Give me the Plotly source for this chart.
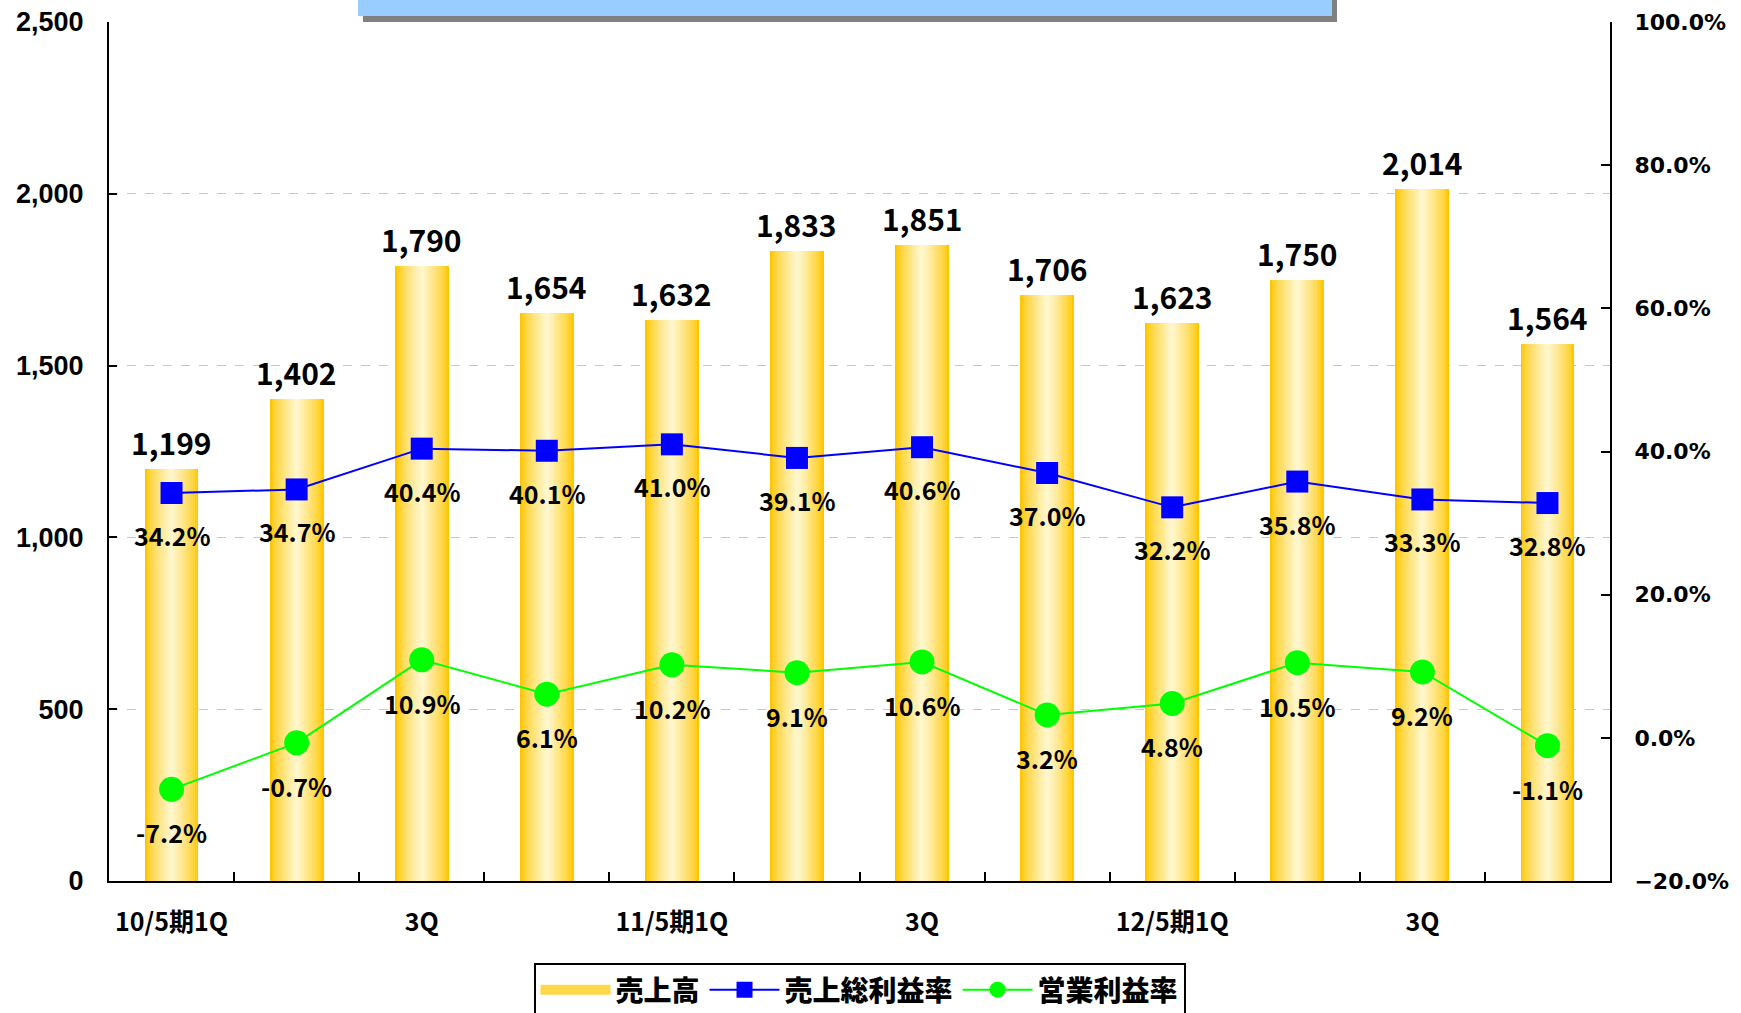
import plotly.graph_objects as go

categories = ["c1", "c2", "c3", "c4", "c5", "c6", "c7", "c8", "c9", "c10", "c11", "c12"]
tick_labels = ["10/5期1Q", "", "3Q", "", "11/5期1Q", "", "3Q", "", "12/5期1Q", "", "3Q", ""]
sales = [1199, 1402, 1790, 1654, 1632, 1833, 1851, 1706, 1623, 1750, 2014, 1564]
gross_margin = [34.2, 34.7, 40.4, 40.1, 41.0, 39.1, 40.6, 37.0, 32.2, 35.8, 33.3, 32.8]
op_margin = [-7.2, -0.7, 10.9, 6.1, 10.2, 9.1, 10.6, 3.2, 4.8, 10.5, 9.2, -1.1]

W, H = 1741, 1013
L, R, T, B = 109, 131, 22, 132
PW, PH = W - L - R, H - T - B

def px_x(px):
    return (px - L) / PW

def px_y(py):
    return (H - B - py) / PH

fig = go.Figure()

# gradient bars via stacked overlay of narrowing bars
edge = (255, 198, 0)
center = (255, 246, 204)
N = 14
BW = 0.43
for k in range(N):
    t = (k / (N - 1)) ** 0.75
    c = tuple(int(round(edge[i] + (center[i] - edge[i]) * t)) for i in range(3))
    fig.add_trace(go.Bar(
        x=categories, y=sales, width=BW * (1 - k / N),
        marker=dict(color="rgb(%d,%d,%d)" % c, line=dict(width=0)),
        name="売上高", showlegend=False, hoverinfo="skip",
    ))

# legend swatch for the bars (wide gold rectangle)
fig.add_trace(go.Scatter(
    x=[None], y=[None], mode="lines", name="売上高",
    line=dict(color="#FFD84A", width=20), legendrank=1,
))

fig.add_trace(go.Scatter(
    x=categories, y=gross_margin, yaxis="y2", mode="lines+markers",
    line=dict(color="#0000FF", width=2),
    marker=dict(symbol="square", size=22, color="#0000FF"),
    name="売上総利益率", legendrank=2,
))
fig.add_trace(go.Scatter(
    x=categories, y=op_margin, yaxis="y2", mode="lines+markers",
    line=dict(color="#00FF00", width=2),
    marker=dict(symbol="circle", size=25, color="#00FF00"),
    name="営業利益率", legendrank=3,
))

jp = "Noto Sans CJK JP"
annotations = []
for c, v in zip(categories, sales):
    annotations.append(dict(x=c, y=v, xref="x", yref="y", text=f"{v:,}", showarrow=False,
                            yanchor="middle", yshift=27,
                            font=dict(family=jp, size=30, color="black", weight="bold")))
for c, v in zip(categories, gross_margin):
    annotations.append(dict(x=c, y=v, xref="x", yref="y2", text=f"{v:.1f}%", showarrow=False,
                            yanchor="middle", yshift=-42,
                            font=dict(family=jp, size=25, color="black", weight="bold")))
for c, v in zip(categories, op_margin):
    annotations.append(dict(x=c, y=v, xref="x", yref="y2", text=f"{v:.1f}%", showarrow=False,
                            yanchor="middle", yshift=-43,
                            font=dict(family=jp, size=25, color="black", weight="bold")))

shapes = [
    dict(type="rect", xref="paper", yref="paper", x0=px_x(363), x1=px_x(1337), y0=px_y(22), y1=px_y(-10),
         fillcolor="#808080", line=dict(width=0), layer="above"),
    dict(type="rect", xref="paper", yref="paper", x0=px_x(358), x1=px_x(1332), y0=px_y(16), y1=px_y(-10),
         fillcolor="#99CCFF", line=dict(width=0), layer="above"),
]

fig.update_layout(
    width=W, height=H,
    margin=dict(l=L, r=R, t=T, b=B, pad=0, autoexpand=False),
    paper_bgcolor="white", plot_bgcolor="white",
    barmode="overlay", bargap=0,
    annotations=annotations, shapes=shapes,
    xaxis=dict(
        type="category", tickmode="array", tickvals=categories, ticktext=tick_labels,
        tickson="boundaries", ticks="inside", ticklen=9, tickwidth=2, tickcolor="black",
        showline=True, linecolor="black", linewidth=2, showgrid=False,
        ticklabelstandoff=18, tickangle=0,
        tickfont=dict(family=jp, size=25, color="black", weight="bold"),
        range=[-0.5, 11.5],
    ),
    yaxis=dict(
        range=[0, 2500], dtick=500, tickformat=",",
        showline=True, linecolor="black", linewidth=2,
        ticks="inside", ticklen=8, tickwidth=2, tickcolor="black",
        showgrid=True, gridcolor="#C8C8C8", griddash="dash", gridwidth=1,
        zeroline=False, ticklabelstandoff=18,
        tickfont=dict(family="Liberation Sans, Arial", size=27, color="black", weight="bold"),
    ),
    yaxis2=dict(
        overlaying="y", side="right", range=[-20, 100], dtick=20,
        tickformat=".1f", ticksuffix="%",
        showline=True, linecolor="black", linewidth=2,
        ticks="inside", ticklen=9, tickwidth=2, tickcolor="black",
        showgrid=False, zeroline=False, ticklabelstandoff=18,
        tickfont=dict(family="DejaVu Sans", size=22, color="black", weight="bold"),
    ),
    legend=dict(
        orientation="h", x=0.5, xanchor="center", y=px_y(963), yanchor="top",
        bordercolor="black", borderwidth=2, bgcolor="white",
        font=dict(family=jp, size=28, color="black", weight=900),
        traceorder="normal", itemwidth=70,
    ),
    showlegend=True,
)

fig.write_html("out.html")
